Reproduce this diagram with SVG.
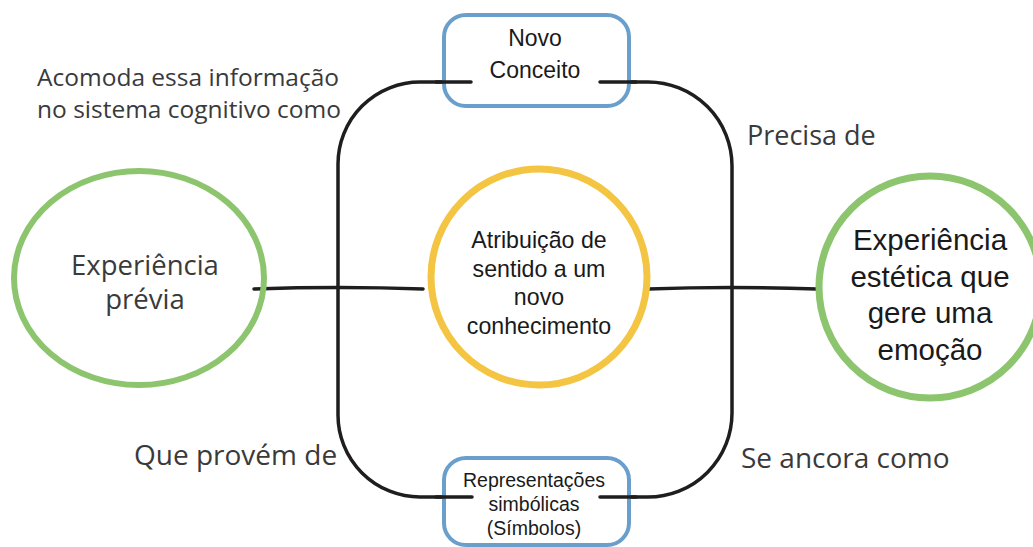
<svg xmlns="http://www.w3.org/2000/svg" width="1033" height="547" viewBox="0 0 1033 547">
<style>
.lbl{font-family:"Open Sans","Liberation Sans",sans-serif;fill:#3a3a3a}
.ar{font-family:"Liberation Sans",Arial,sans-serif;fill:#1a1a1a;text-anchor:middle}
.blue{fill:#fff;stroke:#6a9fcb;stroke-width:4}
.line{fill:none;stroke:#1e1e1e;stroke-width:3.5;stroke-linecap:round}
</style>
<rect width="1033" height="547" fill="#fff"/>
<g id="connectors">
<path class="line" d="M471,82 H420 A82,82 0 0 0 338,164 V415 A82,82 0 0 0 420,497 H472"/>
<path class="line" d="M600,82 H648 A84,84 0 0 1 732,166 V413 A84,84 0 0 1 648,497 H600"/>
<path class="line" d="M254,289 Q340,286 423,289" stroke-width="4"/>
<path class="line" d="M648,289 Q730,286 817,289" stroke-width="4"/>
</g>
<g id="novo-conceito">
<rect class="blue" x="444" y="15" width="185" height="91" rx="22"/>
<path class="line" d="M436,82 H471 M600,82 H636"/>
<text class="ar" font-size="23" x="535" y="46">Novo</text>
<text class="ar" font-size="23" x="535" y="78">Conceito</text>
</g>
<g id="representacoes">
<rect class="blue" x="444" y="458" width="185" height="87" rx="22"/>
<path class="line" d="M436,497 H472 M600,497 H636"/>
<text class="ar" font-size="19.5" x="534" y="487">Representações</text>
<text class="ar" font-size="19.5" x="534" y="511">simbólicas</text>
<text class="ar" font-size="19.5" x="534" y="535">(Símbolos)</text>
</g>
<g id="experiencia-previa">
<ellipse cx="139" cy="278" rx="125" ry="107" fill="none" stroke="#8cc56e" stroke-width="6"/>
<text class="lbl" font-size="27.5" x="145" y="275" text-anchor="middle">Experiência</text>
<text class="lbl" font-size="27.5" x="145" y="309" text-anchor="middle">prévia</text>
</g>
<g id="atribuicao">
<circle cx="539" cy="277" r="108" fill="none" stroke="#f4c542" stroke-width="7"/>
<text class="ar" font-size="23.2" x="539" y="248">Atribuição de</text>
<text class="ar" font-size="23.2" x="539" y="277">sentido a um</text>
<text class="ar" font-size="23.2" x="539" y="305">novo</text>
<text class="ar" font-size="23.2" x="539" y="334">conhecimento</text>
</g>
<g id="experiencia-estetica">
<ellipse cx="930" cy="287" rx="111" ry="111" fill="none" stroke="#8cc56e" stroke-width="7"/>
<text class="ar" font-size="29.5" x="930" y="250">Experiência</text>
<text class="ar" font-size="29.5" x="930" y="287">estética que</text>
<text class="ar" font-size="29.5" x="930" y="323">gere uma</text>
<text class="ar" font-size="29.5" x="930" y="360">emoção</text>
</g>
<g id="labels">
<text class="lbl" font-size="24.5" x="37" y="86">Acomoda essa informação</text>
<text class="lbl" font-size="24.5" x="37" y="118">no sistema cognitivo como</text>
<text class="lbl" font-size="27" x="747" y="145">Precisa de</text>
<text class="lbl" font-size="28" x="134" y="465">Que provém de</text>
<text class="lbl" font-size="28" x="741" y="468">Se ancora como</text>
</g>
</svg>
